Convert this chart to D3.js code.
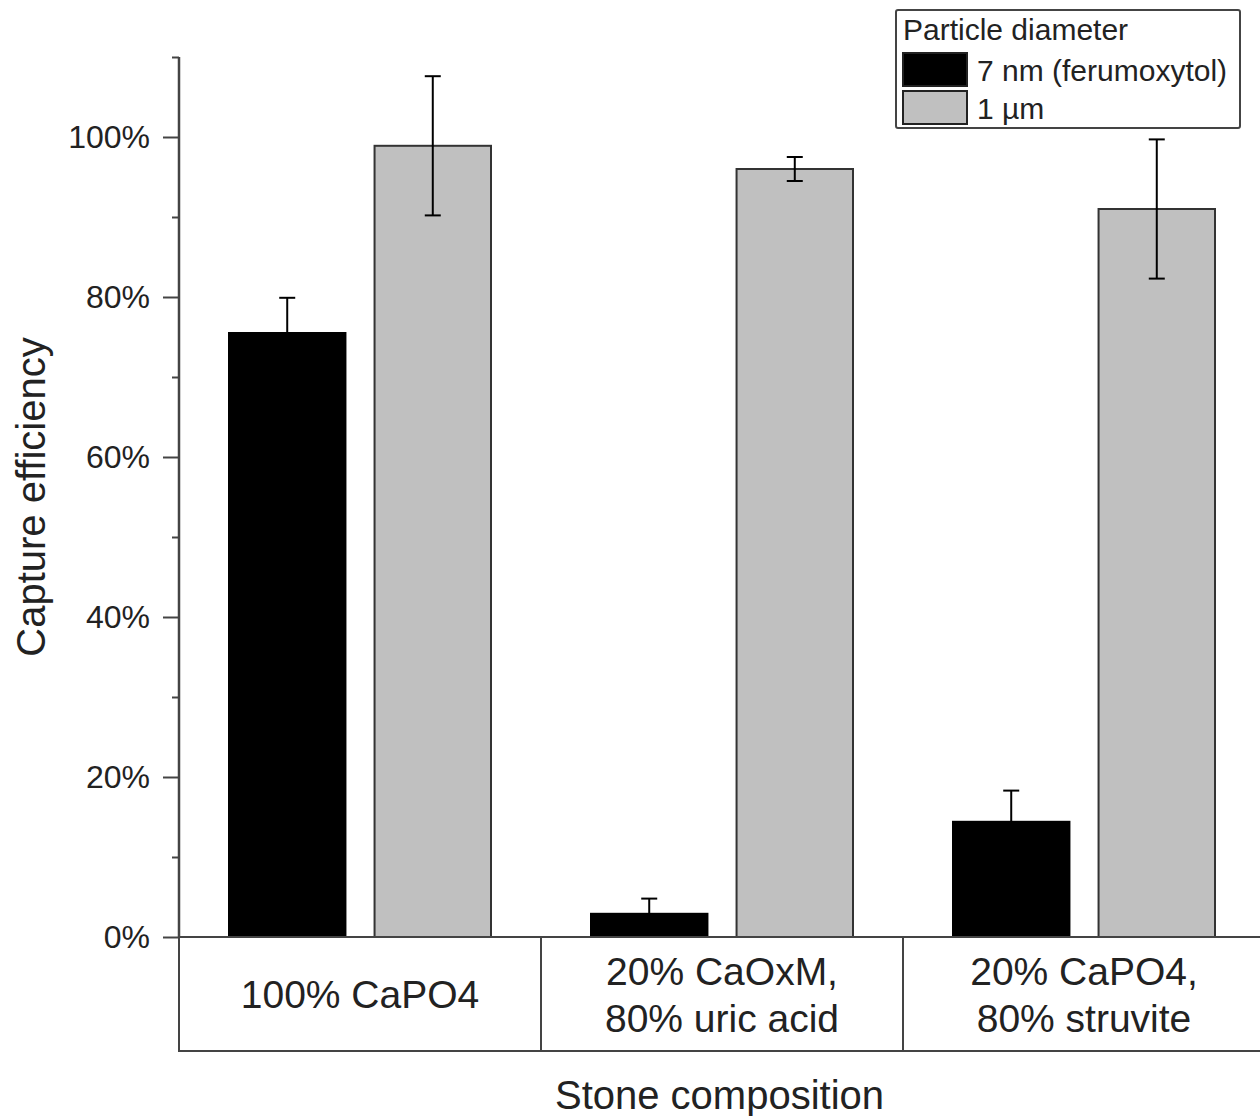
<!DOCTYPE html>
<html>
<head>
  <meta charset="utf-8">
  <script src="https://d3js.org/d3.v7.min.js"></script>
  <style>
    body { margin: 0; background: #fff; }
    text { font-family: "Liberation Sans", Arial, sans-serif; fill: #222; }
  </style>
</head>
<body>
<svg id="chart" width="1260" height="1116"></svg>
<script>
  // data
  var categories = ["100% CaPO4", "20% CaOxM,\n80% uric acid", "20% CaPO4,\n80% struvite"];
  var series = ["7 nm (ferumoxytol)", "1 µm"];
  var means = [[75.5, 2.9, 14.4], [98.9, 96.0, 91.0]];
  var errors = [[4.4, 1.9, 3.9], [8.7, 1.5, 8.7]];
  var colors = ["#000000", "#c0c0c0"];
  var majorTicks = [0, 20, 40, 60, 80, 100];
  var minorTicks = [10, 30, 50, 70, 90, 110];

  var svg = d3.select("#chart");
  var left = 179, right = 1265, plotTop = 57, base = 937, tableBottom = 1051;

  var y = d3.scaleLinear().domain([0, 110]).range([base, plotTop]);
  var x0 = d3.scaleBand().domain(categories).range([left, right]);
  var x1 = d3.scaleBand().domain(series).range([50, 312]).paddingInner(0.2);

  // bars
  var rows = [];
  series.forEach(function (s, i) {
    categories.forEach(function (c, j) {
      rows.push({ cat: c, ser: s, i: i, v: means[i][j], e: errors[i][j] });
    });
  });

  var g = svg.append("g");
  g.selectAll("rect.bar").data(rows).enter().append("rect")
    .attr("class", "bar")
    .attr("x", function (d) { return x0(d.cat) + x1(d.ser); })
    .attr("y", function (d) { return y(d.v); })
    .attr("width", x1.bandwidth())
    .attr("height", function (d) { return base - y(d.v); })
    .attr("fill", function (d) { return colors[d.i]; })
    .attr("stroke", function (d) { return d.i === 0 ? "#000" : "#333"; })
    .attr("stroke-width", 2);

  // error bars
  var eb = g.selectAll("g.err").data(rows).enter().append("g")
    .attr("transform", function (d) { return "translate(" + (x0(d.cat) + x1(d.ser) + x1.bandwidth() / 2) + ",0)"; })
    .attr("stroke", "#000").attr("stroke-width", 2);
  eb.append("line").attr("y1", function (d) { return y(d.v + d.e); }).attr("y2", function (d) { return y(Math.max(0, d.v - d.e)); });
  eb.append("line").attr("x1", -8).attr("x2", 8)
    .attr("y1", function (d) { return y(d.v + d.e); }).attr("y2", function (d) { return y(d.v + d.e); });
  eb.append("line").attr("x1", -8).attr("x2", 8)
    .attr("y1", function (d) { return y(Math.max(0, d.v - d.e)); }).attr("y2", function (d) { return y(Math.max(0, d.v - d.e)); });

  // y axis
  var yAxis = svg.append("g").attr("transform", "translate(" + left + ",0)")
    .call(d3.axisLeft(y).tickValues(majorTicks).tickSize(16).tickPadding(13)
      .tickFormat(function (d) { return d + "%"; }));
  svg.append("g").attr("transform", "translate(" + left + ",0)")
    .call(d3.axisLeft(y).tickValues(minorTicks).tickSize(7).tickFormat(""))
    .select(".domain").remove();
  yAxis.select(".domain").attr("d", "M0," + plotTop + "V" + base);
  svg.selectAll(".tick line").attr("stroke", "#444").attr("stroke-width", 2);
  yAxis.select(".domain").attr("stroke", "#444").attr("stroke-width", 2.5);
  yAxis.selectAll(".tick text").attr("font-size", 32).attr("fill", "#333")
    .style("font-family", "'Liberation Sans', Arial, sans-serif");

  // x axis line and category table
  svg.append("line").attr("x1", left).attr("x2", right).attr("y1", base).attr("y2", base)
    .attr("stroke", "#444").attr("stroke-width", 2);
  svg.append("path")
    .attr("d", "M" + left + "," + base + "V" + tableBottom + "H" + right)
    .attr("fill", "none").attr("stroke", "#444").attr("stroke-width", 2);
  svg.selectAll("line.div").data(categories.slice(1)).enter().append("line")
    .attr("x1", function (d) { return x0(d); }).attr("x2", function (d) { return x0(d); })
    .attr("y1", base).attr("y2", tableBottom)
    .attr("stroke", "#444").attr("stroke-width", 2);

  svg.selectAll("text.cat").data(categories).enter().append("text")
    .attr("text-anchor", "middle").attr("font-size", 39)
    .attr("transform", function (d) { return "translate(" + (x0(d) + x0.bandwidth() / 2) + "," + (base + tableBottom) / 2 + ")"; })
    .each(function (d) {
      var lines = d.split("\n");
      var t = d3.select(this);
      lines.forEach(function (l, k) {
        t.append("tspan").attr("x", 0)
          .attr("y", (k - (lines.length - 1) / 2) * 47 + 14)
          .text(l);
      });
    });

  // axis titles
  svg.append("text").attr("text-anchor", "middle").attr("font-size", 40)
    .attr("transform", "translate(45,497) rotate(-90)").text("Capture efficiency");
  svg.append("text").attr("text-anchor", "middle").attr("font-size", 40)
    .attr("x", (left + 1260) / 2).attr("y", 1109).text("Stone composition");

  // legend
  var lg = svg.append("g");
  lg.append("rect").attr("x", 896).attr("y", 10).attr("width", 344).attr("height", 118)
    .attr("fill", "#fff").attr("stroke", "#444").attr("stroke-width", 2).attr("rx", 2);
  lg.append("text").attr("x", 903).attr("y", 40).attr("font-size", 30).text("Particle diameter");
  var li = lg.selectAll("g.item").data(series).enter().append("g")
    .attr("transform", function (d, i) { return "translate(903," + (53 + i * 38) + ")"; });
  li.append("rect").attr("width", 64).attr("height", 33)
    .attr("fill", function (d, i) { return colors[i]; })
    .attr("stroke", "#222").attr("stroke-width", 2);
  li.append("text").attr("x", 74).attr("y", 28).attr("font-size", 30).text(function (d) { return d; });
</script>
</body>
</html>
